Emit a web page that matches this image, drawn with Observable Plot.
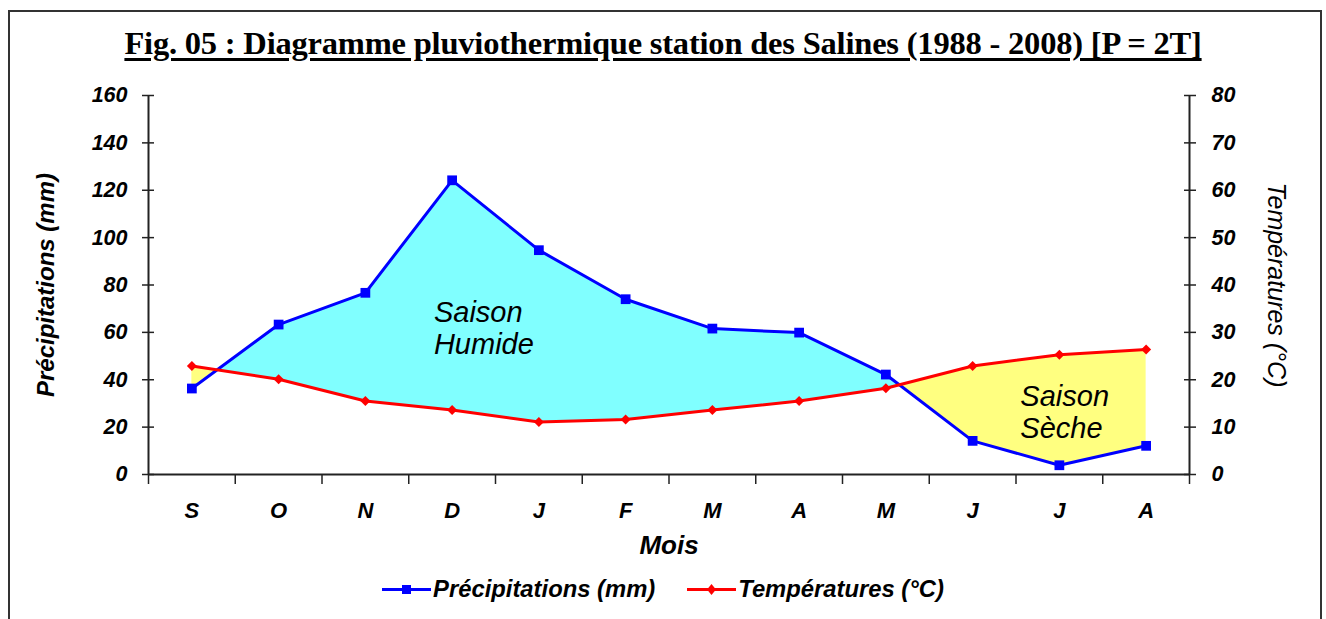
<!DOCTYPE html>
<html>
<head>
<meta charset="utf-8">
<script src="https://cdn.jsdelivr.net/npm/d3@7"></script>
<script src="https://cdn.jsdelivr.net/npm/@observablehq/plot@0.6"></script>
<style>
  body { margin: 0; background: #fff; width: 1326px; height: 619px; overflow: hidden; position: relative; font-family: "Liberation Sans", Arial, sans-serif; }
  #frame { position: absolute; left: 8px; top: 10px; width: 1314px; height: 660px; border: 2px solid #333; box-sizing: border-box; }
  #title { position: absolute; top: 25px; left: 0; width: 1326px; text-align: center; font-family: "Liberation Serif", "Times New Roman", serif; font-weight: bold; font-size: 32.5px; letter-spacing: -0.2px; text-decoration: underline; text-decoration-thickness: 3px; text-underline-offset: 4px; white-space: nowrap; color: #000; }
  #chart { position: absolute; left: 0; top: 0; }
  #legend { position: absolute; top: 575px; left: 0; width: 1326px; display: flex; justify-content: center; gap: 32px; font-style: italic; font-weight: bold; font-size: 23.8px; color: #000; }
  .item { display: flex; align-items: center; gap: 2px; }
</style>
</head>
<body>
<div id="frame"></div>
<div id="title">Fig. 05 : Diagramme pluviothermique station des Salines (1988 - 2008) [P = 2T]</div>
<div id="chart"></div>
<div id="legend"></div>
<script>
// ---- data ----
const months = ["S", "O", "N", "D", "J", "F", "M", "A", "M", "J", "J", "A"];
const precipitation = [36.3, 63.3, 76.7, 124.2, 94.7, 74.0, 61.6, 59.9, 42.2, 14.2, 3.9, 12.1]; // mm
const temperature = [22.9, 20.1, 15.5, 13.6, 11.1, 11.6, 13.6, 15.5, 18.2, 22.9, 25.3, 26.4]; // °C
const precipTicks = [0, 20, 40, 60, 80, 100, 120, 140, 160];
const seriesNames = ["Précipitations (mm)", "Températures (°C)"];
const seriesColors = ["#0000FF", "#FF0000"];
const fillColors = ["#80FFFF", "#FFFF80"];

// ---- derived ----
const rows = months.map((m, i) => ({ i, month: m, p: precipitation[i], t2: 2 * temperature[i] }));
// fill polygon points, including the crossings of P and 2T
const fillPts = [];
rows.forEach((r, k) => {
  fillPts.push({ x: r.i, p: r.p, t2: r.t2 });
  const n = rows[k + 1];
  if (n) {
    const d0 = r.p - r.t2, d1 = n.p - n.t2;
    if (d0 * d1 < 0) {
      const f = d0 / (d0 - d1);
      const v = r.p + f * (n.p - r.p);
      fillPts.push({ x: r.i + f, p: v, t2: v });
    }
  }
});
const xDomain = [-0.5, months.length - 0.5];
const boundaries = d3.range(months.length + 1).map(k => k - 0.5);
const axisColor = "#222";

const chart = Plot.plot({
  width: 1326,
  height: 619,
  marginTop: 95,
  marginBottom: 145,
  marginLeft: 148,
  marginRight: 137,
  x: { type: "linear", domain: xDomain },
  y: { domain: [0, 160] },
  style: { fontFamily: "'Liberation Sans', Arial, sans-serif", fontStyle: "italic", fontWeight: "bold", color: "#000", background: "transparent", overflow: "visible" },
  marks: [
    Plot.areaY(fillPts, { x: "x", y1: "t2", y2: d => Math.max(d.p, d.t2), fill: fillColors[0] }),
    Plot.areaY(fillPts, { x: "x", y1: d => Math.min(d.p, d.t2), y2: "t2", fill: fillColors[1] }),
    Plot.ruleX(xDomain, { stroke: axisColor, strokeWidth: 2 }),
    Plot.ruleY([0], { stroke: axisColor, strokeWidth: 2 }),
    // left axis
    Plot.axisY(precipTicks, { anchor: "left", tickSize: 12, dx: 6, tickFormat: () => "", label: null, stroke: axisColor, strokeWidth: 1.5 }),
    Plot.axisY(precipTicks, { anchor: "left", tickSize: 0, tickPadding: 21, fontSize: 21.5, label: null }),
    // right axis (temperature = P/2)
    Plot.axisY(precipTicks, { anchor: "right", tickSize: 12, dx: -6, tickFormat: () => "", label: null, stroke: axisColor, strokeWidth: 1.5 }),
    Plot.axisY(precipTicks, { anchor: "right", tickSize: 0, tickPadding: 22, fontSize: 21.5, tickFormat: d => d / 2, label: null }),
    // x axis
    Plot.axisX(boundaries, { tickSize: 10, tickFormat: () => "", label: null, stroke: axisColor, strokeWidth: 1.5 }),
    Plot.axisX(d3.range(months.length), { tickSize: 0, tickPadding: 28, fontSize: 22, tickFormat: i => months[i], label: null }),
    // axis titles
    Plot.text(["Mois"], { text: d => d, frameAnchor: "bottom", dy: 79, fontSize: 26 }),
    Plot.text([seriesNames[0]], { text: d => d, frameAnchor: "left", textAnchor: "middle", rotate: -90, dx: -102, fontSize: 24 }),
    Plot.text([seriesNames[1]], { text: d => d, frameAnchor: "right", textAnchor: "middle", rotate: 90, dx: 86, fontSize: 25, fontWeight: "normal" }),
    // season annotations
    Plot.text(["Saison\nHumide"], { text: d => d, x: 2.79, y: 62, textAnchor: "start", fontSize: 29, fontWeight: "normal", lineHeight: 1.1 }),
    Plot.text(["Saison\nSèche"], { text: d => d, x: 9.55, y: 26.4, textAnchor: "start", fontSize: 29, fontWeight: "normal", lineHeight: 1.1 }),
    // series
    Plot.line(rows, { x: "i", y: "p", stroke: seriesColors[0], strokeWidth: 3 }),
    Plot.dot(rows, { x: "i", y: "p", symbol: "square", r: 5.5, fill: seriesColors[0], stroke: "none" }),
    Plot.line(rows, { x: "i", y: "t2", stroke: seriesColors[1], strokeWidth: 3 }),
    Plot.dot(rows, { x: "i", y: "t2", symbol: "diamond2", r: 4.5, fill: seriesColors[1], stroke: "none" })
  ]
});
document.getElementById("chart").appendChild(chart);

// legend
const legend = document.getElementById("legend");
seriesNames.forEach((name, k) => {
  const item = document.createElement("div");
  item.className = "item";
  const marker = k === 0
    ? `<rect x="20" y="6" width="9" height="9" fill="${seriesColors[k]}"/>`
    : `<path d="M24.5 5 L29 10.5 L24.5 16 L20 10.5 Z" fill="${seriesColors[k]}"/>`;
  item.innerHTML = `<svg width="49" height="21"><line x1="0" y1="10.5" x2="49" y2="10.5" stroke="${seriesColors[k]}" stroke-width="3"/>${marker}</svg><span>${name}</span>`;
  legend.appendChild(item);
});
</script>
</body>
</html>
